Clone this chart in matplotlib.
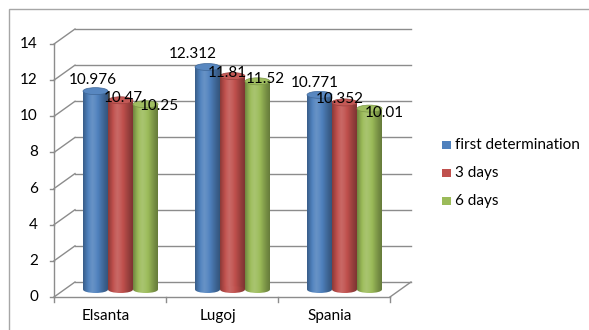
import numpy as np
import matplotlib
matplotlib.use("Agg")
import matplotlib.pyplot as plt
from matplotlib.patches import Ellipse, Rectangle
from matplotlib.colors import to_rgb

plt.rcParams['font.family'] = ['Lato', 'DejaVu Sans']

# ---- data ----
categories = ["Elsanta", "Lugoj", "Spania"]
series_names = ["first determination", "3 days", "6 days"]
first_determination = [10.976, 12.312, 10.771]
after_3_days = [10.47, 11.81, 10.352]
after_6_days = [10.25, 11.52, 10.01]
value_labels = [["10.976", "12.312", "10.771"],
                ["10.47", "11.81", "10.352"],
                ["10.25", "11.52", "10.01"]]
y_ticks = [0, 2, 4, 6, 8, 10, 12, 14]

series_values = [first_determination, after_3_days, after_6_days]
colors = ["#4F81BD", "#C0504D", "#9BBB59"]
grid_color = "#8C8C8C"
FS = 11

W, H = 589, 330
fig = plt.figure(figsize=(W / 100, H / 100), dpi=100)

# outer chart-area border
fig.patches.append(Rectangle((9 / W, -0.1), 1.2, (H - 9) / H + 0.1,
                             transform=fig.transFigure, fill=False,
                             edgecolor="#A6A6A6", linewidth=1.0))

# front plane of the 3-D plot
left_px, right_px, top_px, bottom_px = 54, 390, 44, 297
ax = fig.add_axes([left_px / W, (H - bottom_px) / H,
                   (right_px - left_px) / W, (bottom_px - top_px) / H])
ax.set_xlim(-0.5, 2.5)
ax.set_ylim(0, 14)
ax.axis("off")

px_x = (right_px - left_px) / 3.0          # pixels per category unit
px_y = (bottom_px - top_px) / 14.0         # pixels per value unit
DX = 21 / px_x                             # depth offset (data units)
DY = 15 / px_y

# back wall gridlines and left-wall diagonals
for t in y_ticks:
    ax.plot([-0.5 + DX, 2.5 + DX], [t + DY, t + DY], color=grid_color,
            lw=1.0, clip_on=False, zorder=1)
    ax.plot([-0.5, -0.5 + DX], [t, t + DY], color=grid_color,
            lw=1.0, clip_on=False, zorder=1)
    # tick mark on the front axis
    ax.plot([-0.5 - 4 / px_x, -0.5], [t, t], color=grid_color, lw=1.0,
            clip_on=False, zorder=1)
    ax.text(-0.5 - 16 / px_x, t, str(t), ha="right", va="center",
            fontsize=FS, color="#000000")

# front axis and floor outline
ax.plot([-0.5, -0.5], [0, 14], color=grid_color, lw=1.0, clip_on=False, zorder=1)
ax.plot([-0.5, 2.5], [0, 0], color=grid_color, lw=1.0, clip_on=False, zorder=1)
ax.plot([2.5, 2.5 + DX], [0, DY], color=grid_color, lw=1.0, clip_on=False, zorder=1)
for b in [-0.5, 0.5, 1.5, 2.5]:
    ax.plot([b, b], [0, -5 / px_y], color=grid_color, lw=1.0,
            clip_on=False, zorder=1)
for i, c in enumerate(categories):
    ax.text(i - 4 / px_x, -19 / px_y, c, ha="center", va="center", fontsize=FS)


def shade(color, f):
    r = np.array(to_rgb(color))
    if f >= 1:
        return r + (1 - r) * (f - 1)
    return r * f


profile = np.array([0.72, 0.9, 1.06, 1.14, 1.08, 0.98, 0.86, 0.75, 0.66])


def gradient_image(color):
    xs = np.linspace(0, 1, 64)
    fs = np.interp(xs, np.linspace(0, 1, len(profile)), profile)
    img = np.array([shade(color, f) for f in fs])[None, :, :]
    return np.clip(img, 0, 1)


bar_w = 25 / px_x
ell_h = 7 / px_y
x = np.arange(len(categories))
# label offsets in pixels from each cylinder's top centre
label_offsets = [[(-3, 11), (-15, 13), (-5, 12)],
                 [(3, 2), (-5, 3), (-5, 3)],
                 [(14, -2), (8, 2), (15, -4)]]

for s, (vals, col) in enumerate(zip(series_values, colors)):
    centers = x + (s - 1) * bar_w + DX / 2
    bars = ax.bar(centers, vals, width=bar_w, bottom=DY / 2,
                  color="none", edgecolor="none", zorder=3 + s)
    img = gradient_image(col)
    for k, patch in enumerate(bars.patches):
        x0 = patch.get_x()
        cx = x0 + bar_w / 2
        top = DY / 2 + vals[k]
        # cylinder body
        im = ax.imshow(img, extent=(x0, x0 + bar_w, DY / 2 - ell_h / 2, top),
                       aspect="auto", zorder=3 + s, interpolation="bilinear")
        im.set_clip_path(patch)
        bottom_cap = Ellipse((cx, DY / 2), bar_w, ell_h, facecolor="none",
                             edgecolor="none", transform=ax.transData)
        ax.add_patch(bottom_cap)
        im2 = ax.imshow(img, extent=(x0, x0 + bar_w, DY / 2 - ell_h / 2, top),
                        aspect="auto", zorder=3 + s, interpolation="bilinear")
        im2.set_clip_path(bottom_cap)
        # top cap
        ax.add_patch(Ellipse((cx, top), bar_w, ell_h,
                             facecolor=shade(col, 1.05),
                             edgecolor=shade(col, 0.8), lw=0.5,
                             zorder=3.5 + s, clip_on=False))
        ax.annotate(value_labels[s][k], (cx, top),
                    xytext=label_offsets[s][k], textcoords="offset pixels",
                    ha="center", va="center", fontsize=FS, zorder=10,
                    annotation_clip=False)

ax.set_xlim(-0.5, 2.5)
ax.set_ylim(0, 14)

# legend
for s, name in enumerate(series_names):
    yc = 145 + s * 28
    fig.patches.append(Rectangle((442 / W, 1 - (yc + 4) / H), 9 / W, 8 / H,
                                 transform=fig.transFigure,
                                 facecolor=colors[s], edgecolor="none"))
    fig.text(455 / W, 1 - yc / H, name, ha="left", va="center", fontsize=FS)

fig.savefig("out.png", dpi=100)
